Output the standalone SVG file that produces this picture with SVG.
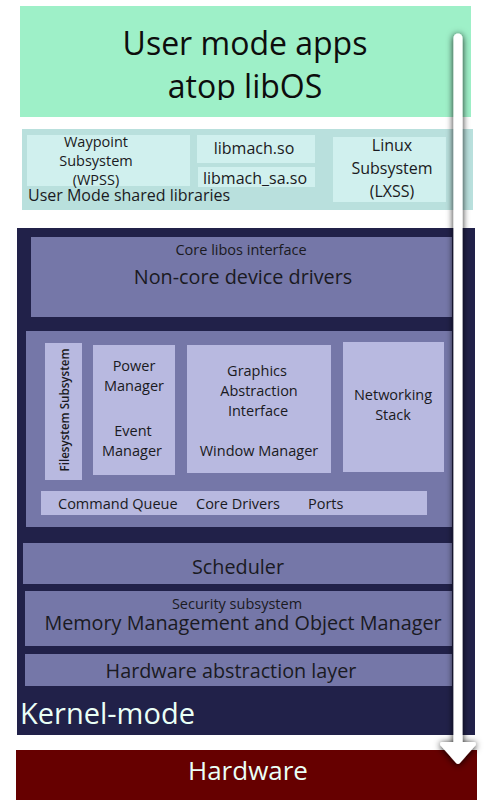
<svg xmlns="http://www.w3.org/2000/svg" width="500" height="800" viewBox="0 0 500 800">
<style>
text{font-family:"Open Sans","Noto Sans","DejaVu Sans",sans-serif;fill:#1a1a22;text-anchor:middle}
.lib{fill:#d0f0ee}
.mid{fill:#7577a8}
.lt{fill:#b8b9e0}
.s14{font-size:14.5px}
.s16{font-size:16px}
.s20{font-size:19.8px}
.light{fill:#eafff6}
</style>
<defs>
<clipPath id="clipTop"><rect x="20" y="6" width="451" height="94"/></clipPath>
<filter id="sh" x="-300%" y="-5%" width="700%" height="110%">
<feGaussianBlur in="SourceAlpha" stdDeviation="3.5"/>
<feOffset dx="0" dy="1" result="b"/>
<feFlood flood-color="#000" flood-opacity="0.9"/>
<feComposite in2="b" operator="in"/>
<feMerge><feMergeNode/><feMergeNode in="SourceGraphic"/></feMerge>
</filter>
</defs>
<rect width="500" height="800" fill="#fff"/>

<g id="user-apps">
<rect x="20" y="6" width="451" height="111" fill="#9ef0c8"/>
<g clip-path="url(#clipTop)">
<text x="245" y="55" style="font-size:32px;fill:#0d0d0d">User mode apps</text>
<text x="245" y="98" style="font-size:32px;fill:#0d0d0d">atop libOS</text>
</g>
</g>

<g id="shared-libs">
<rect x="22" y="129" width="451" height="81" fill="#b9e0dd"/>
<g id="wpss">
<rect class="lib" x="27" y="135" width="163" height="51"/>
<text class="s14" x="96" y="147">Waypoint</text>
<text class="s14" x="96" y="166">Subsystem</text>
<text class="s14" x="96" y="185">(WPSS)</text>
</g>
<g id="libmach">
<rect class="lib" x="197" y="135" width="118" height="28"/>
<text class="s16" x="254" y="154">libmach.so</text>
</g>
<g id="libmach-sa">
<rect class="lib" x="198" y="167" width="117" height="20"/>
<text class="s16" x="255" y="184">libmach_sa.so</text>
</g>
<g id="lxss">
<rect class="lib" x="333" y="137" width="113" height="65"/>
<text class="s16" x="392" y="151">Linux</text>
<text class="s16" x="392" y="174">Subsystem</text>
<text class="s16" x="392" y="197">(LXSS)</text>
</g>
<text class="s16" x="28" y="201" style="text-anchor:start">User Mode shared libraries</text>
</g>

<g id="kernel">
<rect x="17" y="228" width="458" height="507" fill="#212149"/>
<g id="noncore">
<rect class="mid" x="31" y="237" width="421" height="80"/>
<text class="s14" x="241" y="255">Core libos interface</text>
<text class="s20" x="243" y="284">Non-core device drivers</text>
</g>
<g id="core">
<rect class="mid" x="26" y="331" width="426" height="196"/>
<g id="filesystem">
<rect class="lt" x="45" y="343" width="37" height="137"/>
<text x="69" y="410" transform="rotate(-90 69 410)" style="font-size:11.6px;font-weight:600">Filesystem Subsystem</text>
</g>
<g id="power">
<rect class="lt" x="93" y="345" width="82" height="130"/>
<text class="s14" x="134" y="371">Power</text>
<text class="s14" x="134" y="391">Manager</text>
<text class="s14" x="133" y="436">Event</text>
<text class="s14" x="132" y="456">Manager</text>
</g>
<g id="graphics">
<rect class="lt" x="187" y="345" width="144" height="128"/>
<text class="s14" x="257" y="376">Graphics</text>
<text class="s14" x="259" y="396">Abstraction</text>
<text class="s14" x="258" y="416">Interface</text>
<text class="s14" x="259" y="456">Window Manager</text>
</g>
<g id="networking">
<rect class="lt" x="343" y="342" width="101" height="130"/>
<text class="s14" x="393" y="400">Networking</text>
<text class="s14" x="393" y="420">Stack</text>
</g>
<g id="corebar">
<rect class="lt" x="41" y="491" width="386" height="24"/>
<text class="s14" x="58" y="509" style="text-anchor:start">Command Queue</text>
<text class="s14" x="196" y="509" style="text-anchor:start">Core Drivers</text>
<text class="s14" x="308" y="509" style="text-anchor:start">Ports</text>
</g>
</g>
<g id="scheduler">
<rect class="mid" x="23" y="543" width="429" height="41"/>
<text class="s20" x="238" y="574">Scheduler</text>
</g>
<g id="memory">
<rect class="mid" x="25" y="591" width="427" height="55"/>
<text class="s14" x="237" y="609">Security subsystem</text>
<text class="s20" x="243" y="630">Memory Management and Object Manager</text>
</g>
<g id="hal">
<rect class="mid" x="25" y="654" width="427" height="32"/>
<text class="s20" x="231" y="678">Hardware abstraction layer</text>
</g>
<text class="light" x="20" y="724" style="font-size:29px;text-anchor:start">Kernel-mode</text>
</g>

<g id="hardware">
<rect x="16" y="750" width="461" height="50" fill="#660000"/>
<text class="light" x="248" y="780" style="font-size:26px">Hardware</text>
</g>

<g id="connectors">
<path filter="url(#sh)" fill="#fff" d="M453.5 38 a4.5 4.5 0 0 1 9 0 V742 H474 a2 2 0 0 1 1.5 3.2 L460 763 a2.5 2.5 0 0 1 -4 0 L440.5 745.2 a2 2 0 0 1 1.5 -3.2 H453.5 Z"/>
</g>
</svg>
